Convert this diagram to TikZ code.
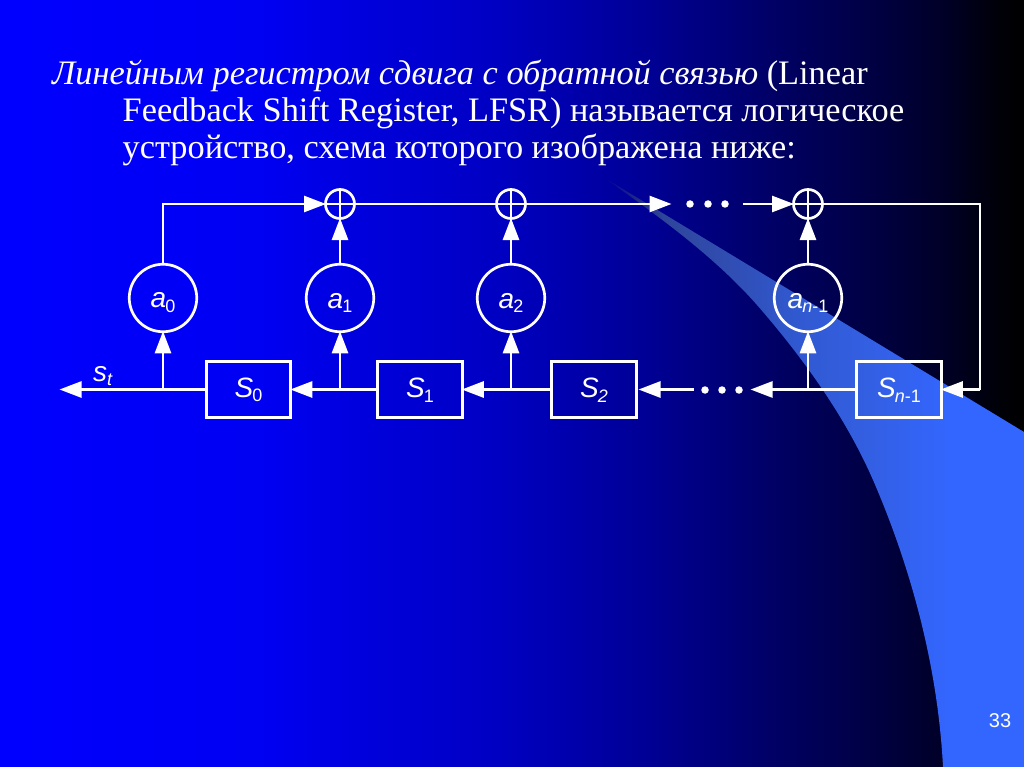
\documentclass[tikz,border=0pt]{standalone}
\usepackage{fontspec}
\setmainfont{Liberation Serif}
\setsansfont{Liberation Sans}
\usetikzlibrary{arrows.meta}
\pgfdeclarehorizontalshading{bgs}{100bp}{
 rgb(0bp)=(0,0,1);
 rgb(25bp)=(0,0,1);
 rgb(37.7bp)=(0,0,.95);
 rgb(43.6bp)=(0,0,.85);
 rgb(49.4bp)=(0,0,.76);
 rgb(56.7bp)=(0,0,.58);
 rgb(64bp)=(0,0,.36);
 rgb(68bp)=(0,0,.25);
 rgb(70.9bp)=(0,0,.16);
 rgb(73.8bp)=(0,0,.03);
 rgb(75bp)=(0,0,0);
 rgb(100bp)=(0,0,0)}
\pgfdeclarehorizontalshading{wgs}{100bp}{
 rgb(0bp)=(0,0,.65);
 rgb(25bp)=(0,0,.65);
 rgb(28.9bp)=(.12,.16,.52);
 rgb(32.1bp)=(.18,.27,.60);
 rgb(41.5bp)=(.19,.31,.72);
 rgb(48.2bp)=(.19,.35,.82);
 rgb(55.7bp)=(.2,.37,.88);
 rgb(66.3bp)=(.2,.4,1);
 rgb(100bp)=(.2,.4,1)}
\newcommand{\lbl}[3]{\rule[-4.5pt]{0pt}{#3}{\sffamily\fontsize{28}{28}\selectfont\itshape #1}\kern-1pt\raisebox{-4.5pt}{\sffamily\fontsize{18}{18}\selectfont #2}}
\tikzset{
 wire/.style={white,line width=2.7pt},
 arr/.style={wire,-{Triangle[length=22pt,width=16pt]},shorten >=-0.5pt},
 regbox/.style={draw=white,line width=2.7pt,minimum width=84.5pt,minimum height=56.5pt,inner sep=0pt,outer sep=0pt,text=white},
 coef/.style={circle,draw=white,line width=2.7pt,minimum size=67.5pt,inner sep=0pt,outer sep=0pt,text=white},
 xorc/.style={circle,draw=white,line width=2.7pt,minimum size=29pt,inner sep=0pt,outer sep=0pt,
   path picture={\draw[white,line width=2.7pt] (path picture bounding box.north)--(path picture bounding box.south) (path picture bounding box.west)--(path picture bounding box.east);}},
 dot/.style={circle,fill=white,minimum size=7.5pt,inner sep=0pt,outer sep=0pt},
 ttl/.style={anchor=base west,text=white,inner sep=0pt,font=\fontsize{34.3}{34.3}\selectfont},
}
\begin{document}
\begin{tikzpicture}[x=1pt,y=-1pt]
\useasboundingbox (0,0) rectangle (1024,767);
\shade[shading=bgs] (0,0) rectangle (1024,767);
\shade[shading=wgs] (603,177) .. controls (654,213) and (713,255) .. (757,305) .. controls (803,358) and (845,416) .. (873,480) .. controls (912,570) and (938,669) .. (943,767) -- (1024,767) -- (1024,432) -- cycle;
\node[ttl] (t1) at (52,85) {\itshape Линейным регистром сдвига с обратной связью \upshape(Linear};
\node[ttl] (t2) at (122.5,122) {Feedback Shift Register, LFSR) называется логическое};
\node[ttl] (t3) at (122.5,159) {устройство, схема которого изображена ниже:};
\node[xorc] (p1) at (340,204) {};
\node[xorc] (p2) at (511,204) {};
\node[xorc] (p3) at (808,204) {};
\node[coef] (a0) at (163,298) {\lbl{a}{0}{29pt}};
\node[coef] (a1) at (340,298) {\lbl{a}{1}{29pt}};
\node[coef] (a2) at (511,298) {\lbl{a}{2}{29pt}};
\node[coef] (a3) at (808,298) {\lbl{a}{\textit{n}-1}{29pt}};
\node[regbox] (s0) at (248.5,389.5) {\lbl{S}{0}{25pt}};
\node[regbox] (s1) at (420,389.5) {\lbl{S}{1}{25pt}};
\node[regbox] (s2) at (594,389.5) {\lbl{S}{\textit{2}}{25pt}};
\node[regbox] (s3) at (899,389.5) {\lbl{S}{\textit{n}-1}{25pt}};
\node[text=white,inner sep=0pt,anchor=base west] (st) at (93,381) {{\sffamily\fontsize{28}{28}\selectfont\itshape s}\raisebox{-4pt}{\sffamily\fontsize{18}{18}\selectfont\itshape t}};
\node[dot] (u1) at (690,204) {};
\node[dot] (u2) at (708,204) {};
\node[dot] (u3) at (725,204) {};
\node[dot] (d1) at (705,390) {};
\node[dot] (d2) at (722,390) {};
\node[dot] (d3) at (739,390) {};
\coordinate (stend) at (60,389.5);
\coordinate (utip) at (671,204);
\coordinate (ustart) at (743,204);
\coordinate (dtip) at (751,389.5);
\coordinate (dstart) at (694,389.5);
\coordinate (dtip2) at (639,389.5);
\coordinate (rc) at (980,204);
\coordinate (rd) at (980,389.5);
% top row
\draw[arr] (a0.north) |- (p1.west);
\draw[wire] (p1.east) -- (p2.west);
\draw[arr] (p2.east) -- (utip);
\draw[arr] (ustart) -- (p3.west);
\draw[arr] (a1.north) -- (p1.south);
\draw[arr] (a2.north) -- (p2.south);
\draw[arr] (a3.north) -- (p3.south);
% feedback
\draw[wire,line join=miter] (p3.east) -- (rc) -- (rd);
\draw[arr] (rd) -- (s3.east);
% bottom row
\draw[arr] (s0.west) -- (stend);
\draw[arr] (s1.west) -- (s0.east);
\draw[arr] (s2.west) -- (s1.east);
\draw[arr] (dstart) -- (dtip2);
\draw[arr] (s3.west) -- (dtip);
\draw[arr] (a0 |- s0.west) -- (a0.south);
\draw[arr] (a1 |- s1.west) -- (a1.south);
\draw[arr] (a2 |- s2.west) -- (a2.south);
\draw[arr] (a3 |- s3.west) -- (a3.south);
\node[text=white,inner sep=0pt,font=\sffamily\fontsize{20}{20}\selectfont] (pg) at (1000,721) {33};
\end{tikzpicture}
\end{document}
